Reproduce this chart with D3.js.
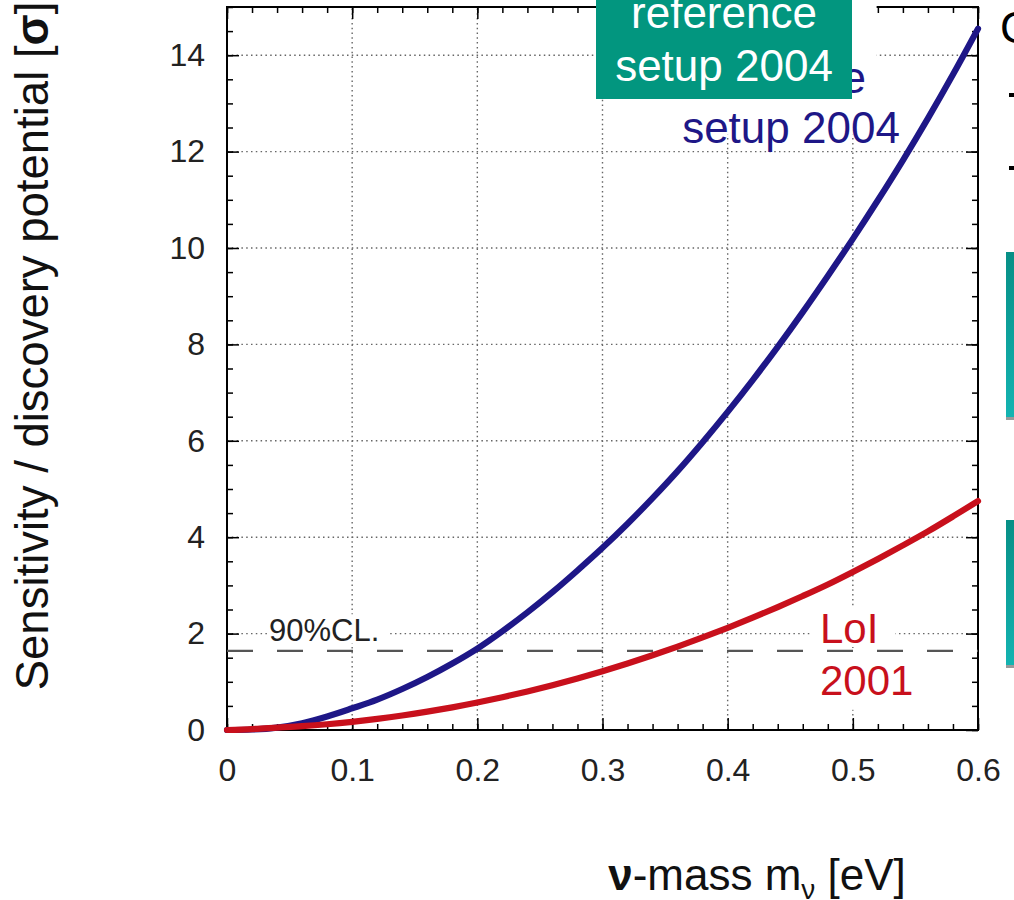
<!DOCTYPE html>
<html>
<head>
<meta charset="utf-8">
<script src="https://cdn.jsdelivr.net/npm/d3@7"></script>
<style>
  body { margin: 0; background: #fff; }
  svg { display: block; font-family: "Liberation Sans", Arial, sans-serif; }
</style>
</head>
<body>
<svg id="canvas" width="1014" height="900"></svg>
<script>
// neutrino mass [eV]
const massValues = [0, 0.02, 0.04, 0.06, 0.08, 0.10, 0.12, 0.14, 0.16, 0.18, 0.20,
  0.22, 0.24, 0.26, 0.28, 0.30, 0.32, 0.34, 0.36, 0.38, 0.40,
  0.42, 0.44, 0.46, 0.48, 0.50, 0.52, 0.54, 0.56, 0.58, 0.60];

// reference setup 2004 (blue)
const setup2004 = [0, 0.01, 0.05, 0.14, 0.28, 0.45, 0.63, 0.85, 1.10, 1.38, 1.69,
  2.05, 2.44, 2.86, 3.31, 3.78, 4.28, 4.81, 5.37, 5.97, 6.60,
  7.26, 7.95, 8.67, 9.42, 10.19, 10.99, 11.82, 12.69, 13.60, 14.55];

// LoI 2001 (red)
const loi2001 = [0, 0.02, 0.05, 0.08, 0.12, 0.17, 0.23, 0.30, 0.38, 0.47, 0.57,
  0.68, 0.80, 0.93, 1.07, 1.22, 1.38, 1.55, 1.73, 1.92, 2.12,
  2.33, 2.55, 2.78, 3.02, 3.28, 3.55, 3.83, 4.12, 4.43, 4.75];

const xTicks = [0, 0.1, 0.2, 0.3, 0.4, 0.5, 0.6];
const yTicks = [0, 2, 4, 6, 8, 10, 12, 14];
const clLevel = 1.64;

let svg = d3.select("#canvas");

let x = d3.scaleLinear().domain([0, 0.6]).range([227, 978]);
let y = d3.scaleLinear().domain([0, 15]).range([730, 7]);

let xMinor = d3.range(0, 0.6001, 0.02);
let yMinor = d3.range(0, 15.001, 0.5);

// grid
let grid = svg.append("g")
  .attr("stroke", "#666")
  .attr("stroke-width", 1.4)
  .attr("stroke-dasharray", "1.5,3.3");
grid.selectAll(".gx")
  .data(xTicks.slice(1, -1))
  .enter().append("line")
    .attr("x1", d => x(d)).attr("x2", d => x(d))
    .attr("y1", y(0)).attr("y2", y(15));
grid.selectAll(".gy")
  .data(yTicks.slice(1))
  .enter().append("line")
    .attr("y1", d => y(d)).attr("y2", d => y(d))
    .attr("x1", x(0)).attr("x2", x(0.6));

// ticks on all four sides, pointing inwards
function styleAxis(g) {
  g.select(".domain").remove();
  g.selectAll("line").attr("stroke", "#000").attr("stroke-width", 1.5);
  g.selectAll("text").attr("font-size", 32).attr("fill", "#222");
}

svg.append("g").attr("transform", `translate(0,${y(0)})`)
  .call(d3.axisBottom(x).tickValues(xMinor).tickSize(-6).tickFormat(""))
  .call(styleAxis);
svg.append("g").attr("transform", `translate(0,${y(0)})`)
  .call(d3.axisBottom(x).tickValues(xTicks).tickSize(-12).tickPadding(28)
    .tickFormat(d => d === 0 ? "0" : d3.format(".1f")(d)))
  .call(styleAxis);
svg.append("g").attr("transform", `translate(0,${y(15)})`)
  .call(d3.axisTop(x).tickValues(xMinor).tickSize(-6).tickFormat(""))
  .call(styleAxis);
svg.append("g").attr("transform", `translate(0,${y(15)})`)
  .call(d3.axisTop(x).tickValues(xTicks).tickSize(-12).tickFormat(""))
  .call(styleAxis);

svg.append("g").attr("transform", `translate(${x(0)},0)`)
  .call(d3.axisLeft(y).tickValues(yMinor).tickSize(-6).tickFormat(""))
  .call(styleAxis);
svg.append("g").attr("transform", `translate(${x(0)},0)`)
  .call(d3.axisLeft(y).tickValues(yTicks).tickSize(-12).tickPadding(22))
  .call(styleAxis);
svg.append("g").attr("transform", `translate(${x(0.6)},0)`)
  .call(d3.axisRight(y).tickValues(yMinor).tickSize(-6).tickFormat(""))
  .call(styleAxis);
svg.append("g").attr("transform", `translate(${x(0.6)},0)`)
  .call(d3.axisRight(y).tickValues(yTicks).tickSize(-12).tickFormat(""))
  .call(styleAxis);

svg.append("rect")
  .attr("x", x(0)).attr("y", y(15))
  .attr("width", x(0.6) - x(0)).attr("height", y(0) - y(15))
  .attr("fill", "none").attr("stroke", "#000").attr("stroke-width", 2);

// white backgrounds behind the in-plot labels
let bgs = [
  {x0: 0.034, x1: 0.129, y0: 1.8, y1: 2.4},
  {x0: 0.466, x1: 0.534, y0: 1.75, y1: 2.55},
  {x0: 0.468, x1: 0.551, y0: 0.42, y1: 1.7},
  {x0: 0.339, x1: 0.519, y0: 12.35, y1: 15.5}
];
svg.selectAll(".bg")
  .data(bgs)
  .enter().append("rect")
    .attr("x", d => x(d.x0)).attr("y", d => y(d.y1))
    .attr("width", d => x(d.x1) - x(d.x0)).attr("height", d => y(d.y0) - y(d.y1))
    .attr("fill", "#fff");

// 90% CL line
svg.append("line")
  .attr("x1", x(0)).attr("x2", x(0.6))
  .attr("y1", y(clLevel)).attr("y2", y(clLevel))
  .attr("stroke", "#555").attr("stroke-width", 2.2)
  .attr("stroke-dasharray", "26,24");

let line = d3.line()
  .x((d, i) => x(massValues[i]))
  .y(d => y(d))
  .curve(d3.curveMonotoneX);

svg.append("path")
  .datum(setup2004)
  .attr("d", line)
  .attr("fill", "none").attr("stroke", "#1e1787").attr("stroke-width", 6.2)
  .attr("stroke-linecap", "round");

svg.append("path")
  .datum(loi2001)
  .attr("d", line)
  .attr("fill", "none").attr("stroke", "#c8101c").attr("stroke-width", 6.2)
  .attr("stroke-linecap", "round");

// labels inside the plot
svg.append("text")
  .attr("x", 269).attr("y", 641)
  .attr("font-size", 31).attr("fill", "#222")
  .text("90%CL.");

svg.append("text").attr("x", 820).attr("y", 643)
  .attr("font-size", 42).attr("fill", "#c8101c").text("LoI");
svg.append("text").attr("x", 820).attr("y", 695)
  .attr("font-size", 42).attr("fill", "#c8101c").text("2001");

svg.append("text").attr("x", 866).attr("y", 93).attr("text-anchor", "end")
  .attr("font-size", 44).attr("fill", "#1e1787").text("reference");
svg.append("text").attr("x", 791).attr("y", 143).attr("text-anchor", "middle")
  .attr("font-size", 44).attr("fill", "#1e1787").text("setup 2004");

// teal box
svg.append("rect")
  .attr("x", 596).attr("y", 0).attr("width", 256).attr("height", 99)
  .attr("fill", "#02967f");
svg.append("text").attr("x", 724).attr("y", 28).attr("text-anchor", "middle")
  .attr("font-size", 44).attr("fill", "#fff").text("reference");
svg.append("text").attr("x", 724).attr("y", 81).attr("text-anchor", "middle")
  .attr("font-size", 44).attr("fill", "#fff").text("setup 2004");

// axis titles
svg.append("text")
  .attr("transform", "translate(48,346) rotate(-90)")
  .attr("text-anchor", "middle")
  .attr("font-size", 45.5).attr("fill", "#111")
  .call(t => {
    t.append("tspan").text("Sensitivity / discovery potential [");
    t.append("tspan").attr("font-weight", "bold").text("σ");
    t.append("tspan").text("]");
  });

svg.append("text")
  .attr("x", 757).attr("y", 890)
  .attr("text-anchor", "middle")
  .attr("font-size", 44).attr("fill", "#111")
  .call(t => {
    t.append("tspan").attr("font-weight", "bold").text("ν");
    t.append("tspan").text("-mass m");
    t.append("tspan").attr("font-size", 28).attr("dy", 9).text("ν");
    t.append("tspan").attr("dy", -9).text(" [eV]");
  });

// cut-off slide content on the right edge
svg.append("text").attr("x", 1000).attr("y", 43)
  .attr("font-size", 44).attr("fill", "#000").text("C");
svg.selectAll(".bullet")
  .data([95, 168])
  .enter().append("rect")
    .attr("x", 1009).attr("y", d => d - 2).attr("width", 5).attr("height", 4)
    .attr("fill", "#000");

let defs = svg.append("defs");
let grad = defs.append("linearGradient").attr("id", "teal")
  .attr("x1", 0).attr("y1", 0).attr("x2", 0).attr("y2", 1);
grad.append("stop").attr("offset", 0).attr("stop-color", "#078f86");
grad.append("stop").attr("offset", 1).attr("stop-color", "#14b4b2");
svg.selectAll(".side")
  .data([[252, 420], [520, 668]])
  .enter().append("g")
  .each(function(d) {
    let g = d3.select(this);
    g.append("rect").attr("x", 1006).attr("y", d[0]).attr("width", 8)
      .attr("height", d[1] - d[0]).attr("fill", "url(#teal)");
    g.append("rect").attr("x", 1006).attr("y", d[1] - 3).attr("width", 8)
      .attr("height", 3).attr("fill", "#9a9a9a");
  });
</script>
</body>
</html>
